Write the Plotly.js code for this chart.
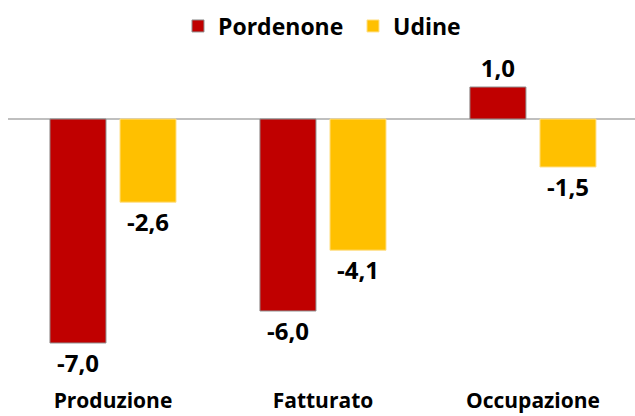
<!DOCTYPE html>
<html>
<head>
<meta charset="utf-8">
<script src="https://cdn.plot.ly/plotly-3.0.1.min.js"></script>
<style>html,body{margin:0;padding:0;background:#fff;}#chart{width:635px;height:416px;}</style>
</head>
<body>
<div id="chart"></div>
<script>
var categories = ["Produzione", "Fatturato", "Occupazione"];
var seriesNames = ["Pordenone", "Udine"];
var pordenone = [-7.0, -6.0, 1.0];
var udine = [-2.6, -4.1, -1.5];

var FONT = "'Open Sans', 'Noto Sans', sans-serif";

var traces = [
  {
    type: "bar", name: seriesNames[0], x: categories, y: pordenone,
    marker: {color: "#C00000", line: {color: "#8f8f8f", width: 1}},
    texttemplate: "%{y:.1f}", textposition: "outside", cliponaxis: false,
    textfont: {family: FONT, size: 24, color: "#000", weight: "bold"},
    hoverinfo: "skip"
  },
  {
    type: "bar", name: seriesNames[1], x: categories, y: udine,
    marker: {color: "#FFC000", line: {color: "#FFE08A", width: 1}},
    texttemplate: "%{y:.1f}", textposition: "outside", cliponaxis: false,
    textfont: {family: FONT, size: 24, color: "#000", weight: "bold"},
    hoverinfo: "skip"
  }
];

var layout = {
  width: 635, height: 416,
  margin: {l: 8, r: 0, t: 55, b: 30},
  paper_bgcolor: "#fff", plot_bgcolor: "#fff",
  separators: ",.",
  barmode: "group",
  bargap: 0.333,
  bargroupgap: 0.2,
  font: {family: FONT, color: "#000"},
  showlegend: true,
  legend: {
    orientation: "h", x: 0.2803, xanchor: "left", xref: "container",
    y: 0.9375, yanchor: "middle", yref: "container",
    entrywidth: 130, entrywidthmode: "pixels",
    font: {family: FONT, size: 23, color: "#000", weight: "bold"},
    traceorder: "normal"
  },
  xaxis: {
    type: "category", range: [-0.5, 2.486], showgrid: false, zeroline: false, showline: false,
    ticks: "", tickfont: {family: FONT, size: 21, color: "#000", weight: "bold"}
  },
  yaxis: {
    range: [-8.344, 2.0], showgrid: false, showticklabels: false, ticks: "",
    showline: false, zeroline: true, zerolinecolor: "#bfbfbf", zerolinewidth: 2
  }
};

Plotly.newPlot("chart", traces, layout, {displayModeBar: false, staticPlot: true});
</script>
</body>
</html>
